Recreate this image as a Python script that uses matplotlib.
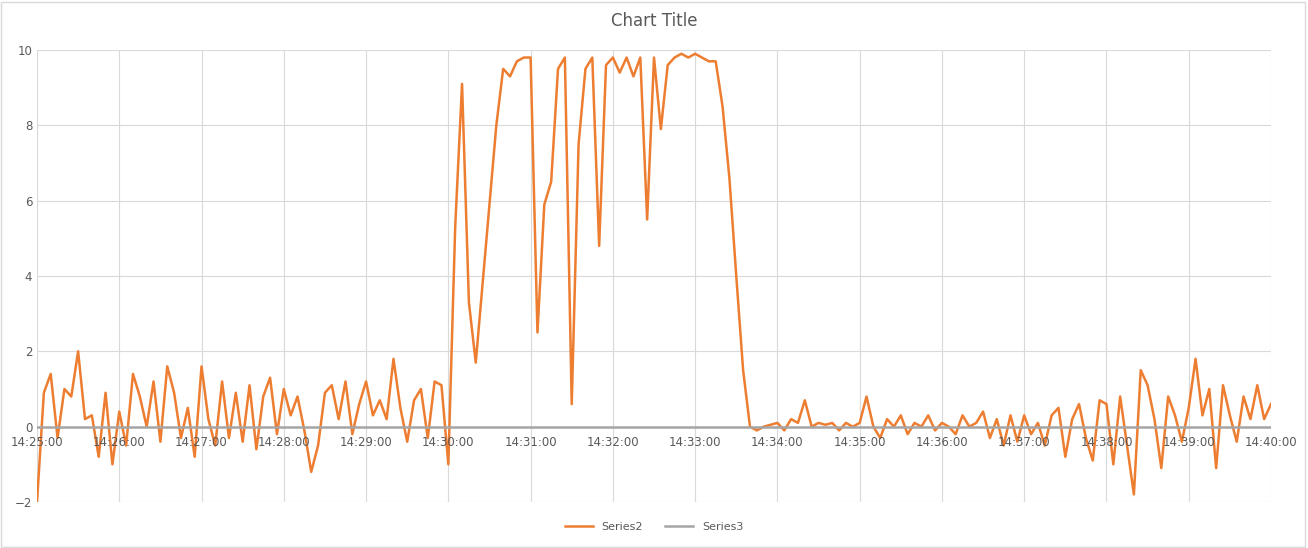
import matplotlib
matplotlib.use("Agg")
import matplotlib.pyplot as plt
import numpy as np

step_seconds = 5
series2 = [
 -2.0, 0.9, 1.4, -0.3, 1.0, 0.8, 2.0, 0.2, 0.3, -0.8, 0.9, -1.0,
 0.4, -0.5, 1.4, 0.8, 0.0, 1.2, -0.4, 1.6, 0.9, -0.3, 0.5, -0.8,
 1.6, 0.2, -0.5, 1.2, -0.3, 0.9, -0.4, 1.1, -0.6, 0.8, 1.3, -0.2,
 1.0, 0.3, 0.8, -0.1, -1.2, -0.5, 0.9, 1.1, 0.2, 1.2, -0.2, 0.6,
 1.2, 0.3, 0.7, 0.2, 1.8, 0.5, -0.4, 0.7, 1.0, -0.3, 1.2, 1.1,
 -1.0, 5.3, 9.1, 3.3, 1.7, 3.8, 5.9, 8.0, 9.5, 9.3, 9.7, 9.8,
 9.8, 2.5, 5.9, 6.5, 9.5, 9.8, 0.6, 7.5, 9.5, 9.8, 4.8, 9.6,
 9.8, 9.4, 9.8, 9.3, 9.8, 5.5, 9.8, 7.9, 9.6, 9.8, 9.9, 9.8,
 9.9, 9.8, 9.7, 9.7, 8.5, 6.6, 4.0, 1.5, 0.0, -0.1, 0.0, 0.05,
 0.1, -0.1, 0.2, 0.1, 0.7, 0.0, 0.1, 0.05, 0.1, -0.1, 0.1, 0.0,
 0.1, 0.8, 0.0, -0.3, 0.2, 0.0, 0.3, -0.2, 0.1, 0.0, 0.3, -0.1,
 0.1, 0.0, -0.2, 0.3, 0.0, 0.1, 0.4, -0.3, 0.2, -0.5, 0.3, -0.4,
 0.3, -0.2, 0.1, -0.5, 0.3, 0.5, -0.8, 0.2, 0.6, -0.3, -0.9, 0.7,
 0.6, -1.0, 0.8, -0.5, -1.8, 1.5, 1.1, 0.2, -1.1, 0.8, 0.3, -0.4,
 0.5, 1.8, 0.3, 1.0, -1.1, 1.1, 0.3, -0.4, 0.8, 0.2, 1.1, 0.2, 0.6,
]
series3 = [0.0] * len(series2)
tick_labels = ["14:%02d:00" % m for m in range(25, 41)]

x = np.arange(len(series2)) * step_seconds / 60.0

fig = plt.figure(figsize=(13.08, 5.48), dpi=100)
ax = fig.add_axes([37/1308, 1-502/548, (1271-37)/1308, (502-50)/548])
ax.plot(x, series2, color="#ED7D31", lw=1.8, label="Series2")
ax.plot(x, series3, color="#A5A5A5", lw=1.8, label="Series3")
ax.set_xlim(0, 15)
ax.set_ylim(-2, 10)
ax.set_yticks(range(-2, 11, 2))
ax.set_xticks(range(16))
ax.set_xticklabels([])
ax.grid(True, color="#D9D9D9", lw=0.8)
ax.set_axisbelow(True)
for s in ax.spines.values():
    s.set_visible(False)
ax.tick_params(length=0, labelsize=8.5, colors="#595959")
ax.axhline(0, color="#D9D9D9", lw=0.8, zorder=0)
for i, t in enumerate(tick_labels):
    ax.text(i, -0.25, t, ha="center", va="top", fontsize=8.5, color="#595959")
fig.text(0.5, 1-21/548, "Chart Title", ha="center", va="center", fontsize=12, color="#595959")
fig.legend(loc="center", bbox_to_anchor=(0.5, 1-527/548), ncol=2, frameon=False,
           fontsize=8, labelcolor="#595959", handlelength=2.5)
fig.patches.append(plt.Rectangle((0.001, 0.002), 0.997, 0.995, transform=fig.transFigure,
                                 fill=False, edgecolor="#D9D9D9", lw=1))
fig.savefig("out.png", dpi=100)
